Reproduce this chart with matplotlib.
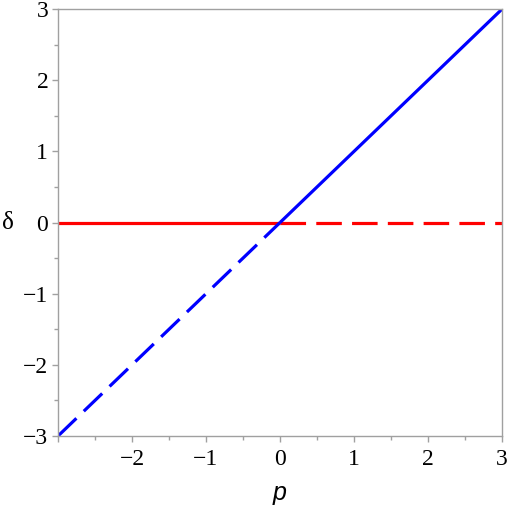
import numpy as np
import matplotlib.pyplot as plt

# p range split at the crossing point
p_neg = [-3, 0]
p_pos = [0, 3]
red_neg = [0, 0]
red_pos = [0, 0]
blue_neg = [-3, 0]
blue_pos = [0, 3]

ticks = [-3, -2, -1, 0, 1, 2, 3]

fig = plt.figure(figsize=(5.1, 5.07), dpi=100)
ax = fig.add_axes([0.1137, 0.140, 0.8706, 0.842])

lw = 2.3
dash = (8, 3.2)
ax.plot(p_neg, red_neg, color='#ff0000', lw=lw, solid_capstyle='butt')
ax.plot(p_pos, red_pos, color='#ff0000', lw=lw, dashes=dash)
ax.plot(p_neg, blue_neg, color='#0000ff', lw=lw, dashes=dash)
ax.plot(p_pos, blue_pos, color='#0000ff', lw=lw, solid_capstyle='butt')

ax.set_xlim(-3, 3)
ax.set_ylim(-3, 3)
ax.set_xticks(ticks)
ax.set_yticks(ticks)
ax.set_xticklabels(['', '\u22122', '\u22121', '0', '1', '2', '3'])
ax.set_yticklabels(['\u22123', '\u22122', '\u22121', '0', '1', '2', '3'])
ax.set_xticks(np.arange(-2.5, 3, 1), minor=True)
ax.set_yticks(np.arange(-2.5, 3, 1), minor=True)

for s in ax.spines.values():
    s.set_color('#a0a0a0')
    s.set_linewidth(1.0)

ax.tick_params(which='major', direction='out', length=4, width=1,
               color='#a0a0a0', labelsize=17)
ax.tick_params(axis='x', which='major', pad=5)
ax.tick_params(axis='y', which='major', pad=3)
ax.tick_params(which='minor', direction='out', length=3, width=1,
               color='#a0a0a0')
for lab in ax.get_xticklabels() + ax.get_yticklabels():
    lab.set_family('Liberation Serif')

ax.set_xlabel('p', fontsize=18, family='Liberation Sans', style='italic')
ax.xaxis.set_label_coords(0.5, -0.105)
ax.set_ylabel('\u03b4', fontsize=18, family='Liberation Serif', rotation=0,
              va='center', ha='center')
ax.yaxis.set_label_coords(-0.113, 0.5)

fig.savefig('out.png', dpi=100)
